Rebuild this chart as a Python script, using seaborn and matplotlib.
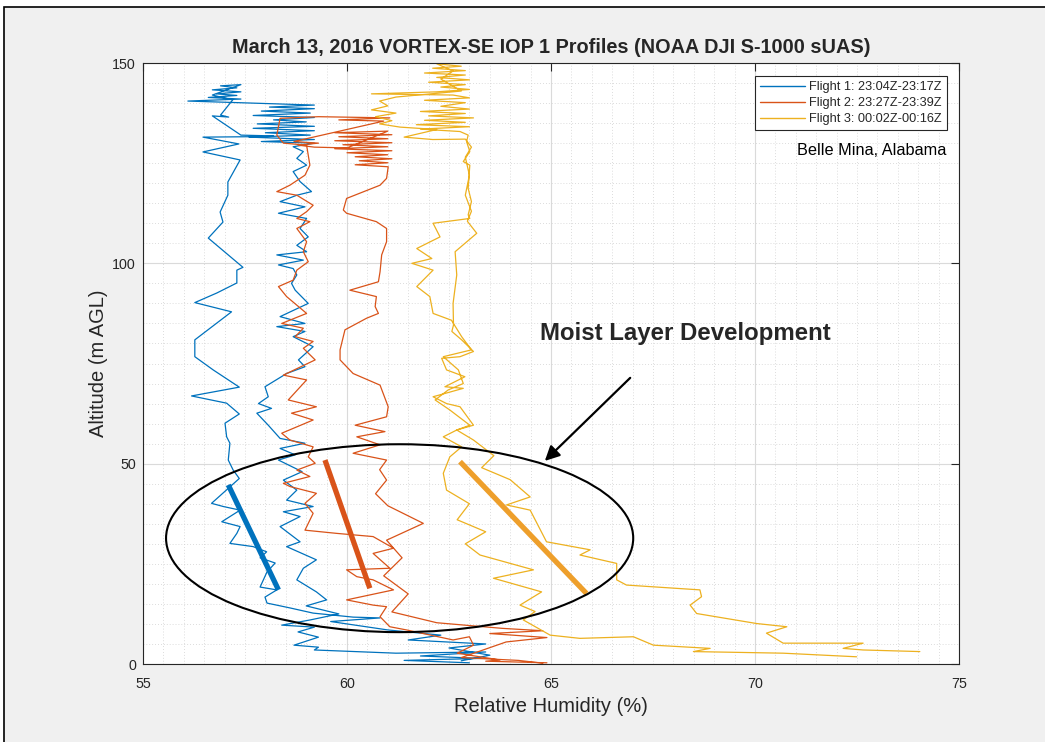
import matplotlib
matplotlib.use('Agg')
import matplotlib.pyplot as plt
from matplotlib.patches import Ellipse, Rectangle
from matplotlib.ticker import MultipleLocator
import seaborn as sns
import pandas as pd

# --- data: (relative humidity %, altitude m AGL) in flight order ---
flight1 = [
    (63.0, 0.3), (61.4, 0.9), (63.3, 1.4), (61.8, 2.0), (63.4, 3.0), (61.2, 2.7), (59.2, 3.5), (59.3, 4.2),
    (58.7, 4.7), (59.3, 6.7), (58.8, 8.0), (59.2, 9.2), (58.4, 9.7), (59.1, 11.0), (59.8, 12.5), (59.0, 14.5),
    (59.5, 16.0), (59.25, 18.0), (58.77, 21.0), (58.93, 23.9), (59.25, 26.0), (58.52, 29.3), (58.85, 30.5),
    (58.36, 34.3), (58.85, 36.8), (58.44, 38.0), (59.17, 39.3), (58.52, 40.9), (58.77, 43.4), (58.44, 45.9),
    (58.9, 48.0), (58.32, 50.9), (58.73, 52.2), (58.36, 53.8), (58.97, 55.1), (58.36, 56.3), (58.07, 59.6),
    (57.79, 62.6), (58.15, 63.8), (57.83, 65.0), (58.07, 66.7), (57.99, 69.2), (58.52, 72.5), (58.97, 74.2),
    (58.81, 75.9), (59.17, 79.2), (58.68, 81.7), (58.97, 83.0), (58.28, 84.2), (58.97, 85.0), (58.36, 86.7),
    (59.05, 90.0), (58.73, 93.3), (58.64, 95.0), (58.77, 97.1), (58.68, 98.7), (58.32, 99.6), (58.93, 100.8),
    (58.28, 102.1), (59.01, 102.9), (58.77, 104.5), (59.05, 106.6), (58.85, 108.7), (59.01, 111.2),
    (58.32, 112.5), (58.97, 114.1), (58.36, 115.4), (58.77, 117.0), (59.13, 117.9), (58.85, 120.4),
    (58.68, 122.9), (59.01, 124.5), (58.77, 126.2), (58.93, 127.9), (58.68, 129.1),
    (59.2, 130.0), (57.9, 130.4), (59.2, 130.9), (57.6, 131.5), (59.1, 132.0), (58.0, 132.6), (59.2, 133.1),
    (57.7, 133.7), (59.2, 134.2), (57.8, 134.8), (59.0, 135.3), (58.2, 135.8), (59.2, 136.4), (57.7, 136.9),
    (59.1, 137.5), (57.9, 138.0), (59.2, 138.6), (58.1, 139.0), (59.2, 139.5), (56.1, 140.5), (57.4, 141.0),
    (56.6, 141.4), (57.3, 141.9), (56.8, 142.3), (57.4, 142.8), (56.7, 143.3), (57.3, 143.8), (56.9, 144.3),
    (57.4, 144.6), (56.7, 142.0), (57.2, 140.8), (56.9, 137.0), (57.1, 136.5), (56.7, 136.8), (57.4, 132.0),
    (58.2, 131.8), (57.6, 131.6), (56.47, 131.5),
    (57.35, 129.8), (56.47, 127.8), (57.38, 125.8), (57.08, 120.3), (57.08, 117.0), (56.89, 112.8),
    (56.96, 110.3), (56.6, 106.3), (57.45, 99.0), (57.30, 98.3), (57.30, 95.1), (56.81, 92.6), (56.27, 90.2),
    (57.17, 87.9), (56.27, 80.9), (56.27, 76.7), (56.72, 73.4), (57.36, 69.1), (56.19, 66.9), (57.05, 65.1),
    (57.36, 62.4), (57.01, 60.1), (57.05, 56.7), (57.13, 55.1), (57.09, 50.9), (57.21, 48.4), (57.36, 46.3),
    (56.68, 40.1), (56.97, 39.3), (57.38, 38.4), (56.93, 35.5), (57.38, 34.3), (57.30, 32.6), (57.13, 30.1),
    (57.70, 29.3), (58.03, 28.0), (57.87, 26.5), (58.24, 25.2), (58.04, 23.0), (57.87, 19.2), (58.28, 18.5),
    (57.99, 16.7), (58.04, 15.2), (58.6, 14.0), (59.17, 12.7), (60.15, 11.7), (60.81, 11.5), (59.6, 10.6),
    (61.0, 8.5), (62.3, 7.2), (61.5, 6.0), (63.4, 5.0), (62.5, 4.0), (63.5, 2.2), (62.8, 0.8),
]

flight2 = [
    (64.9, 0.3), (63.4, 0.7), (63.75, 1.0), (62.7, 2.7), (63.1, 4.7), (63.0, 6.8), (62.6, 6.0), (61.46, 8.5),
    (61.05, 9.3), (60.81, 11.8), (60.97, 14.3), (60.64, 14.7), (59.99, 16.0), (61.14, 18.5), (60.64, 21.0),
    (60.24, 21.8), (59.99, 23.5), (61.05, 23.9), (60.64, 27.6), (61.14, 28.9), (60.64, 31.8), (59.75, 32.6),
    (58.97, 33.4), (59.17, 37.6), (58.97, 40.1), (59.25, 42.6), (58.6, 44.3), (58.44, 45.1), (59.09, 46.8),
    (58.77, 48.4), (59.22, 50.1), (59.05, 51.7), (59.17, 54.2), (58.60, 55.9), (58.40, 57.6), (59.17, 60.9),
    (58.64, 62.6), (59.25, 64.2), (58.56, 65.9), (59.01, 70.9), (58.44, 72.1), (59.22, 75.9), (58.93, 78.8),
    (59.17, 80.5), (58.73, 81.7), (58.93, 83.8), (58.40, 85.0), (59.01, 87.5), (58.52, 91.7), (58.32, 94.2),
    (58.68, 95.8), (58.77, 98.3), (59.05, 100.4), (58.93, 102.9), (59.01, 105.4), (58.77, 108.7),
    (59.09, 110.4), (58.77, 111.2), (59.01, 112.9), (59.17, 114.5), (58.77, 117.0), (58.28, 117.9),
    (58.60, 119.5), (58.97, 122.0), (59.09, 124.5), (59.05, 127.0), (59.01, 129.5), (58.44, 130.0),
    (58.28, 132.0), (58.36, 136.2),
    (59.3, 136.6), (61.05, 136.3), (59.8, 135.8), (60.9, 135.5), (58.7, 130.4), (59.3, 130.0), (58.8, 129.5),
    (59.2, 129.0), (60.0, 128.8), (61.0, 133.0), (59.7, 132.6), (61.1, 132.1), (59.8, 131.6), (61.0, 131.1),
    (59.7, 130.6), (61.1, 130.1), (59.9, 129.6), (61.0, 129.1), (59.7, 128.6), (61.1, 128.1), (60.0, 127.6),
    (61.0, 127.1), (60.2, 126.6), (61.1, 126.1), (60.3, 125.6), (61.0, 125.1), (60.2, 124.6), (61.01, 124.1),
    (60.97, 121.2), (60.81, 119.5), (59.99, 116.2), (59.91, 113.3), (59.99, 112.5), (60.72, 110.4),
    (60.97, 108.7), (60.97, 105.4), (60.85, 102.1), (60.81, 97.9), (60.77, 95.4), (60.07, 93.3),
    (60.56, 92.1), (60.72, 91.7), (60.69, 89.2), (60.77, 87.5), (60.48, 86.3), (59.95, 83.4), (59.83, 78.4),
    (59.83, 75.9), (60.15, 72.5), (60.81, 69.6), (61.01, 64.2), (60.97, 61.7), (60.20, 59.6), (60.93, 58.0),
    (60.24, 56.7), (60.81, 54.7), (60.15, 52.6), (60.97, 50.9), (60.8, 48.5), (60.97, 45.9), (60.7, 42.5),
    (61.0, 39.5), (61.87, 35.1), (60.97, 30.9), (61.35, 26.5), (60.9, 22.0), (61.5, 17.5), (61.1, 13.0),
    (62.2, 10.3), (63.8, 8.9), (64.8, 8.3), (63.5, 7.6), (64.9, 6.6), (63.9, 5.5), (62.8, 1.6), (64.2, 0.9),
    (64.8, 0.2),
]

flight3 = [
    (72.49, 1.8), (70.69, 2.7), (68.49, 3.1), (68.90, 3.9), (67.51, 4.7), (67.02, 6.8), (65.71, 6.4),
    (64.98, 7.2), (64.32, 11.0), (64.61, 13.1), (64.24, 14.7), (64.77, 18.0), (63.59, 21.4), (64.57, 23.5),
    (63.26, 27.2), (62.9, 30.0), (63.4, 33.0), (62.7, 36.0), (63.0, 40.0), (62.44, 43.4), (62.36, 47.6),
    (62.52, 51.7), (62.81, 54.2), (62.36, 56.7), (62.69, 58.4), (63.01, 59.6), (62.52, 63.4), (62.16, 65.9),
    (62.48, 68.4), (62.85, 70.0), (62.73, 73.4), (62.36, 76.7), (63.05, 78.4), (62.81, 81.7), (62.56, 85.8),
    (62.11, 87.5), (62.03, 91.7), (61.71, 94.2), (62.11, 98.3), (61.59, 100.0), (62.08, 101.2),
    (61.71, 103.7), (62.28, 106.6), (62.11, 110.0), (63.01, 111.2), (62.97, 112.1), (63.05, 115.4),
    (62.97, 118.7), (63.01, 124.5), (62.85, 125.4), (63.01, 127.9), (62.93, 130.4), (62.97, 132.0),
    (62.77, 132.9),
    (61.8, 133.5), (63.0, 134.1), (61.7, 134.6), (62.9, 135.2), (61.9, 135.7), (63.1, 136.3), (62.0, 136.8),
    (62.9, 137.4), (61.8, 137.9), (63.0, 138.5), (62.3, 139.2), (62.9, 140.1), (61.9, 140.7), (63.0, 141.3),
    (62.6, 142.0), (60.6, 142.3), (62.2, 142.8), (63.0, 143.4), (62.3, 144.0), (62.9, 144.6), (62.0, 145.2),
    (63.0, 145.8), (62.2, 146.4), (62.9, 147.0), (61.9, 147.5), (62.9, 148.1), (62.1, 148.7), (62.8, 149.2),
    (62.2, 149.8), (62.6, 148.0), (62.3, 146.0), (62.8, 143.0), (61.2, 141.5), (60.8, 140.5), (61.0, 139.3),
    (60.6, 138.3), (61.2, 137.5), (60.7, 136.6), (61.1, 135.6), (60.8, 134.8), (61.3, 134.0), (62.2, 133.4),
    (61.4, 131.5), (62.1, 130.9), (62.9, 131.0),
    (63.05, 129.0), (62.9, 126.5), (63.0, 122.0), (62.9, 117.0), (63.05, 113.0), (62.95, 110.5),
    (63.18, 107.5), (62.65, 102.9), (62.69, 97.1), (62.6, 90.0), (62.61, 84.6), (62.57, 83.0), (62.81, 80.9),
    (63.10, 78.0), (62.77, 76.7), (62.32, 76.3), (62.44, 73.4), (62.89, 71.7), (62.40, 69.2), (62.85, 68.8),
    (62.11, 66.7), (62.44, 65.0), (62.77, 64.2), (63.10, 59.6), (62.69, 58.4), (63.10, 55.9), (63.6, 52.0),
    (63.3, 49.0), (64.0, 46.0), (64.49, 41.7), (63.91, 39.7), (64.49, 38.4), (64.89, 30.5), (65.96, 28.5),
    (65.71, 27.2), (66.61, 25.1), (66.61, 21.0), (66.85, 19.7), (68.65, 18.5), (68.69, 16.8), (68.41, 14.7),
    (68.57, 12.6), (70.04, 10.1), (70.78, 9.3), (70.28, 7.7), (70.69, 5.2), (72.65, 5.2), (72.16, 3.9),
    (72.65, 3.5), (74.04, 3.1),
]

labels = ['Flight 1: 23:04Z-23:17Z', 'Flight 2: 23:27Z-23:39Z', 'Flight 3: 00:02Z-00:16Z']
colors = ['#0072BD', '#D95319', '#EDB120']

# hand-drawn trend lines of the moist layer (rh start/end, alt start/end)
trend_rh = [(57.09, 58.32), (59.46, 60.56), (62.77, 65.87)]
trend_alt = [(44.7, 18.5), (50.9, 18.9), (50.5, 17.6)]
trend_colors = ['#0072BD', '#D95319', '#EE9F2B']

ellipse_center = (61.29, 31.4)
ellipse_size = (11.45, 46.9)
arrow_tip = (64.80, 50.2)
arrow_tail = (66.99, 71.9)

rows = []
for lab, fl in zip(labels, (flight1, flight2, flight3)):
    for rh, alt in fl:
        rows.append(dict(flight=lab, rh=rh, alt=alt))
df = pd.DataFrame(rows)

sns.set_theme(style='white')
plt.rcParams['font.family'] = ['Liberation Sans', 'DejaVu Sans']

fig = plt.figure(figsize=(10.45, 7.42), dpi=100, facecolor='white')
fig.patches.append(Rectangle((4 / 1045, -0.1), 1.2, 1 - 7 / 742 + 0.1, transform=fig.transFigure,
                             facecolor='#f0f0f0', edgecolor='black', lw=1.2, zorder=-10))
ax = fig.add_axes([143 / 1045, 1 - 664 / 742, 816 / 1045, 601 / 742])
ax.set_facecolor('white')

sns.lineplot(data=df, x='rh', y='alt', hue='flight', palette=dict(zip(labels, colors)),
             sort=False, estimator=None, lw=0.9, ax=ax)

for (x0, x1), (y0, y1), c in zip(trend_rh, trend_alt, trend_colors):
    ax.plot([x0, x1], [y0, y1], color=c, lw=3.8, solid_capstyle='butt', zorder=5)

ax.add_patch(Ellipse(ellipse_center, ellipse_size[0], ellipse_size[1], fill=False,
                     edgecolor='black', lw=1.5, zorder=6))
ax.annotate('', xy=arrow_tip, xytext=arrow_tail,
            arrowprops=dict(arrowstyle='-|>', color='black', lw=1.6, mutation_scale=22), zorder=6)
ax.text(64.73, 82.5, 'Moist Layer Development', fontsize=17.3, fontweight='bold', va='center', ha='left')
ax.text(0.985, 0.855, 'Belle Mina, Alabama', transform=ax.transAxes, fontsize=11.7,
        ha='right', va='center', color='black')

ax.set_xlim(55, 75)
ax.set_ylim(0, 150)
ax.xaxis.set_major_locator(MultipleLocator(5))
ax.yaxis.set_major_locator(MultipleLocator(50))
ax.xaxis.set_minor_locator(MultipleLocator(0.5))
ax.yaxis.set_minor_locator(MultipleLocator(5))
ax.grid(which='major', color='#dadada', lw=0.8)
ax.grid(which='minor', color='#d0d0d0', lw=0.6, linestyle=(0, (1, 2.5)))
ax.set_axisbelow(True)
ax.tick_params(which='major', direction='in', length=6, width=0.8, top=True, right=True,
               labelsize=10.3, colors='#262626')
ax.tick_params(axis='x', which='major', pad=9)
ax.tick_params(axis='y', which='major', pad=5)
ax.tick_params(which='minor', length=0)
for s in ax.spines.values():
    s.set_color('#262626')
    s.set_linewidth(0.8)

ax.set_xlabel('Relative Humidity (%)', fontsize=14.5, color='#262626', labelpad=5)
ax.set_ylabel('Altitude (m AGL)', fontsize=14.5, color='#262626', labelpad=3)
ax.set_title('March 13, 2016 VORTEX-SE IOP 1 Profiles (NOAA DJI S-1000 sUAS)',
             fontsize=14.3, fontweight='bold', pad=7)

handles, labs = ax.get_legend_handles_labels()
leg = ax.legend(handles, labs, loc='upper right', bbox_to_anchor=(1 - 12 / 816, 1 - 13 / 601),
                borderaxespad=0, fontsize=9.2, frameon=True, fancybox=False, framealpha=1,
                edgecolor='#262626', handlelength=3.5, handletextpad=0.35, labelspacing=0.32,
                borderpad=0.4)
leg.get_frame().set_linewidth(0.8)
for line in leg.get_lines():
    line.set_linewidth(1.0)

fig.savefig('out.png', dpi=100, facecolor=fig.get_facecolor())
